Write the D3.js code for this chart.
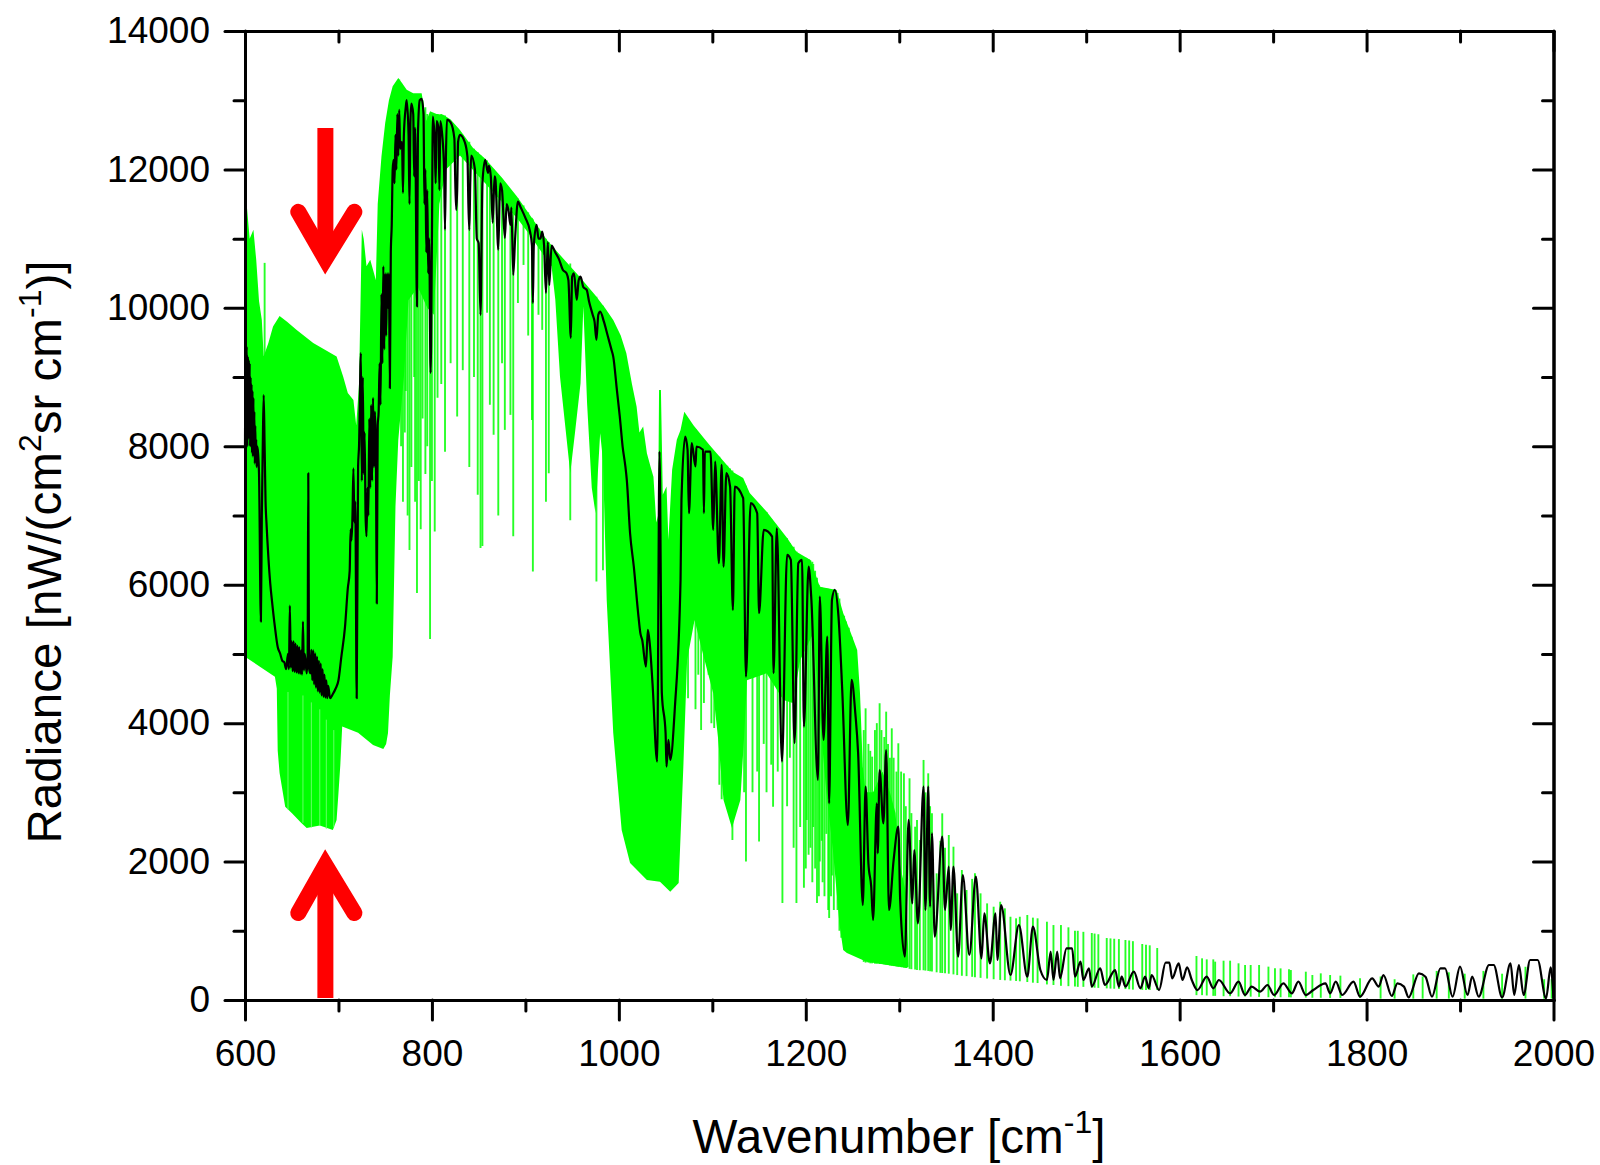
<!DOCTYPE html>
<html lang="en">
<head>
  <meta charset="UTF-8">
  <title>Radiance spectrum</title>
  <script src="https://d3js.org/d3.v7.min.js"></script>
  <style>
    body { margin: 0; background: #fff; }
    text { font-family: "Liberation Sans", Arial, sans-serif; fill: #000; }
    .axis path, .axis line { stroke: #000; stroke-width: 3px; stroke-linecap: round; }
    .axis text { font-size: 37px; font-family: "Liberation Sans", Arial, sans-serif; }
  </style>
</head>
<body>
  <svg width="1600" height="1165"></svg>

  <script>
    const xMajor = [600, 800, 1000, 1200, 1400, 1600, 1800, 2000];
    const xMinor = [700, 900, 1100, 1300, 1500, 1700, 1900];
    const yMajor = [0, 2000, 4000, 6000, 8000, 10000, 12000, 14000];
    const yMinor = [1000, 3000, 5000, 7000, 9000, 11000, 13000];

    // upper edge of the solid green body [wavenumber, radiance]
    const greenUpper = [
      [600,11000],[602,11465],[605,11000],[609,11127],[612,10694],[615,10100],[618,9826],[620,9300],[625,9494],
      [630,9730],[637,9884],[645,9800],[655,9682],[673,9494],[698,9296],[705,9007],[710,8771],[716,8670],[719,8300],
      [722,8900],[725,11127],[727,11000],[730,10600],[734,10694],[738,10500],[740,10400],[742,11500],[746,12187],
      [750,12670],[754,13000],[758,13200],[764,13320],[768,13250],[773,13150],[780,13100],[789,13100],[794,12700],
      [798,12840],[805,12800],[812,12790],[820,12720],[830,12570],[844,12310],[857,12155],[875,11880],[891,11610],
      [907,11300],[923,10980],[940,10720],[958,10450],[975,10180],[985,10000],[994,9826],[1002,9600],[1008,9345],
      [1014,8900],[1019,8570],[1022,8200],[1026,8285],[1030,7900],[1034,7700],[1037,7560],[1040,6900],[1042,7000],
      [1043,8815],[1045,8815],[1047,7300],[1051,7420],[1053,6650],[1057,7660],[1062,8093],[1066,8237],[1070,8500],
      [1080,8300],[1097,8020],[1122,7630],[1133,7543],[1140,7326],[1158,7056],[1180,6676],[1190,6478],[1205,6358],
      [1215,5972],[1233,5925],[1240,5590],[1247,5347],[1255,5058],[1258,4436],[1261,3370],[1264,3000],[1272,3000],
      [1282,3300],[1290,3000],[1296,2700],[1300,2000],[1308,1500],[1310,480]
    ];

    // lower edge of the solid green body
    const greenLower = [
      [600,4960],[616,4815],[632,4672],[634,4500],[635,3600],[637,3280],[643,2793],[650,2700],[660,2560],[666,2485],
      [680,2520],[694,2457],[698,2600],[700,2990],[702,3400],[704,3950],[721,3860],[737,3685],[748,3627],[751,3700],
      [753,3858],[755,4400],[758,4960],[761,7130],[764,8090],[770,9000],[775,10115],[785,10300],[795,10000],[802,9900],
      [808,11500],[815,12000],[830,12200],[850,11900],[857,11800],[870,11600],[891,11300],[905,11050],[915,10850],
      [923,10700],[928,10600],[932,10116],[937,9008],[948,7611],[953,8189],[959,8912],[962,10020],[966,8622],[971,7400],
      [975,7033],[980,8190],[983,7800],[987,5780],[994,3858],[1003,2457],[1012,1980],[1030,1734],[1044,1710],[1055,1565],
      [1064,1690],[1069,3370],[1073,4910],[1081,5490],[1090,5000],[1101,4430],[1106,3800],[1112,2890],[1121,2485],
      [1130,2890],[1134,3800],[1137,4620],[1158,4720],[1176,4335],[1186,4290],[1194,4910],[1208,5300],[1215,4100],
      [1222,3000],[1229,2167],[1236,1100],[1240,722],[1244,680],[1265,553],[1308,462]
    ];

    // single green lines [wavenumber, bottom, top]
    const greenLines = [
      [621,9000,10650],[765,9000,13300],[767,8000,13250],[769,7200,12900],[771,8200,13100],[772,8800,13000],[774,7000,13100],
      [776,6500,13000],[778,7700,13050],[781,9000,13000],[782,7200,13000],[784,5880,13000],[786,7500,13000],
      [788,6800,13000],[790,8400,13000],[793,7600,12900],[795,8000,12800],[798,5216,12800],[800,7500,12800],
      [803,6770,12800],[806,8700,12800],[810,8900,12800],
      [814,7920,12780],[820,9200,12700],[827,8430,12600],
      [833,9100,12500],[840,7700,12400],[845,9000,12300],
      [849,7300,12250],[852,6530,12200],[854,6560,12170],[859,9930,12130],[862,8600,12050],
      [866,8165,12000],[871,7000,11900],[875,9200,11850],[878,8237,11800],
      [884,8454,11700],[887,6700,11650],[892,10070,11580],[898,10620,11480],
      [903,9600,11380],[907,8380,11300],[908,6190,11280],[914,9900,11150],
      [918,9682,11080],[922,7200,11000],[925,7610,10950],[948,6930,10640],[976,6045,10160],
      [983,6210,10030],
      [1074,4360,8300],[1082,4200,8250],[1085,4700,8150],[1088,3900,8100],[1091,4290,8050],
      [1096,4700,8000],[1099,4000,7950],[1102,3930,7900],[1107.5,3110,7850],[1110,2900,7780],
      [1116,3700,7720],[1119,2700,7680],[1121.5,2310,7650],[1128,3300,7550],[1134,3000,7470],
      [1136,2000,7430],[1143,3000,7250],[1148,3300,7150],[1150,2290,7120],
      [1155,3700,7080],[1158,3000,7050],[1163,3400,6950],[1165,2793,6900],[1170,3300,6800],
      [1175,1400,6700],[1180,2800,6670],[1183,3500,6600],[1187,2200,6550],
      [1190,1400,6480],[1194,2500,6420],[1198,1620,6400],[1200,1900,6390],[1201,2600,6380],
      [1203,2100,6370],[1205,2200,6350],[1207,1700,6330],[1208,2500,6300],[1210,1900,6200],[1212,1400,6100],[1214,1500,6000],
      [1215,2000,5970],[1217,2300,5960],[1218,1700,5950],[1220,1500,5950],[1222,2400,5950],[1224,1300,5940],[1225,1185,5930],
      [1227,1500,5925],[1228,1800,5920],[1230,1300,5910],[1232,2100,5900],[1234,1300,5880],[1236,1000,5800],[1238,900,5620],
      [1241,800,5550],[1243,800,5470],[1246,700,5380],[1249,680,5250],
      [1262,550,3900],[1264,540,4214],[1267,540,3700],[1269,530,3600],[1271,530,3516],[1274,525,3900],[1276,525,4000],[1279,520,4287],
      [1281,520,3900],[1284,515,3800],[1286,510,4166],[1288,505,3700],[1290,500,3500],[1292,495,3925],[1294,490,3500],[1297,485,3300],
      [1299,480,3709],[1302,475,3300],[1305,470,3275],[1307,465,2800],[1311,450,3203],[1313,445,2700],[1317,440,2504],
      [1319,435,2600],[1322,430,2312],[1326,430,3468],[1328,425,3000],[1331,420,3275],[1333,415,2800],
      [1335,410,2697],[1340,400,1830],[1344,392,2300],[1346,390,2697],[1349,385,2200],
      [1353,380,2384],[1358,370,2215],[1362,360,1541],[1367,350,1878],
      [1372,345,1589],[1378,335,1750],[1381,330,1830],[1387,320,1541],[1394,310,1396],
      [1401,300,1348],[1408,290,1420],[1413,285,1324],[1419,280,1203],
      [1425,275,1180],[1429,270,1203],[1437,260,1228],[1443,250,1190],[1448,245,1180],
      [1458,225,1131],[1465,217,1083],[1473,205,1083],
      [1481,200,1050],[1488,195,1000],[1491,190,1000],[1497,190,985],
      [1506,180,968],[1509,178,960],[1513,175,950],[1522,168,896],[1526,165,890],[1530,163,885],
      [1535,160,880],[1542,158,867],[1546,155,860],[1550,150,850],[1560,146,809],
      [1564,145,800],[1568,145,790],[1576,145,751],
      [1618,70,636],[1624,70,602],[1629,65,587],[1636,60,587],[1638,60,554],[1647,55,568],[1654,55,568],
      [1663,50,530],[1670,50,506],[1676,48,506],[1685,45,506],[1695,40,482],[1702,40,457],[1708,40,457],[1717,38,443],
      [1719,38,433],[1735,35,409],[1742,32,361],[1751,32,385],[1761,30,361],[1772,30,352],[1793,28,313],[1815,20,340],
      [1830,20,300],[1850,20,370],[1860,20,340],[1875,20,420],[1888,20,400],[1905,20,380],[1925,20,420],[1945,20,380],
      [1970,20,480],[1990,20,300],[1998,20,300]
    ];

    // pale stripes inside the green notch [wavenumber, bottom, top]
    const paleLines = [[646,2750,4450],[662,2560,4400],[671,2490,4300],[680,2520,4200],[687,2470,4050],[695,2500,3900]];

    // black spectrum [wavenumber, radiance]
    const blackLine = [
      [600,8000],[600.5,9300],[601,8100],[601.5,9350],[602,9440],[602.5,8000],[603,9300],[603.5,8100],[604,9250],[604.5,8200],[605,9200],
      [605.5,8000],[606,9000],[606.5,8000],[607,8900],[607.5,7900],[608,8800],[608.5,7850],[609,8700],[609.5,7900],[610,8500],[610.5,7750],
      [611,8300],[611.5,7800],[612,8100],[612.5,7700],[613,8000],
      [614,7900],[615,7600],[617,5467],[618,7000],[619,8000],[620,8740],[621,8000],[622,7200],[623,6890],[625,6400],[627,6020],
      [629,5750],[632,5390],[635,5100],[637.5,5010],[640,4900],[642,4880],[644,4780],[646,5000],[647,4780],[648,5700],[649,4800],
      [650,5180],[651,4750],[652,5180],[653,4740],[654,5150],[655,4730],[656,5120],[657,4720],[658,5100],[659,4710],[660,5050],
      [661,4700],[662,5467],[663,4760],[664,5000],[666,4720],[667,4950],[667.7,7610],[668.5,4800],[670,4720],[671,5060],[672,4620],
      [673,5050],[674,4560],[675,5010],[676,4510],[677,4960],[678,4460],[679,4900],[680,4440],[681,4860],[682,4400],[683,4780],
      [684,4380],[685,4700],[686,4370],[687,4620],[688,4360],[689,4540],[691,4360],[694,4420],[697,4500],[700,4620],[703,4950],
      [707,5390],[710,5950],[712,6200],[713,6800],[714,6640],[715,7000],[716,7680],[717,6900],[718,7200],[719.5,4360],[721,7700],
      [722,8000],[724,9345],[725,7500],[726,9000],[727,7600],[728,8200],[729,7000],[730,6700],[731,7400],[732,7000],[733,8400],
      [734,7400],[735,8600],[736,7500],[737,8700],[738,7700],[739,8500],[740,8000],[741,5730],[742,8300],[743,8500],[744,9200],
      [745,8600],[746,10200],[747,9200],[748,10600],[749,9400],[750,10500],[751,9600],[752,10500],[753,10000],[754,10500],
      [755,8840],[756,10800],[757,11200],[758,12000],[759,12140],[760,11800],[761,12500],[762,12000],[763,12800],[764,12200],
      [765,12860],[766,12300],[768,12400],[769,11660],[770,12500],[772,12900],[773,13000],[775,12500],[776,11500],[777,12700],
      [778,12950],[780,12800],[781,11900],[782,12600],[784,10020],[785,12500],[787,13000],[789,13020],[791,12800],[792,11500],
      [793,12000],[794,10800],[795,11700],[796,10500],[797,11000],[798.6,9060],[800,11000],[801,12765],[803,12400],[804,11800],
      [805,12700],[807,12600],[808,11700],[809,12700],[811,12500],[813,12000],[814,11130],[815,12200],[816,12720],[820,12680],
      [824,12450],[825,11800],[826,11416],[827,11700],[828,12400],[830,12500],[835,12400],[838,12180],[839,11500],[840,11127],
      [841,11800],[842,12200],[846,12000],[848,11000],[850,10935],[852,9900],[854,11800],[857,12140],[860,11950],[861,12050],
      [863,11900],[865,11230],[867,11900],[868,11850],[871,10840],[873,11800],[875,11700],[878,11010],[880,11500],[882,11400],
      [884,11200],[885,11450],[887,10475],[889,11000],[892,11536],[895,11450],[900,11300],[905,11100],[907,10900],[908,10070],
      [909,10900],[912,11200],[914,11000],[916,11000],[918,11100],[920,10900],[922,10215],[924,10950],[925.6,10330],[928,10900],
      [932,10800],[936,10700],[940,10550],[944,10500],[946,10400],[948.6,9566],[950,10450],[952,10500],[955,10115],[957,10400],
      [959,10450],[962,10300],[965.6,10260],[968,10100],[972,9900],[974,9800],[976,9537],[978,9900],[980,9946],[984,9800],
      [988,9600],[992,9400],[994,9296],[998,8800],[1001,8430],[1004,8000],[1007,7705],[1008.5,7515],[1012,6744],[1016,6262],
      [1021,5540],[1023,5300],[1025,5200],[1029,4817],[1031,5347],[1033,5155],[1036,4577],[1041,3445],[1043.5,7924],[1046,4432],
      [1050,3854],[1051,3372],[1053,3758],[1055,3469],[1060,4240],[1066,6070],[1067,7226],[1071,8141],[1073.5,7948],[1075,7033],
      [1078,8045],[1082,7708],[1083,7997],[1090,7950],[1091,7033],[1092,7924],[1098,7924],[1101,6792],[1103,7780],[1107,6311],
      [1110,7732],[1112,6262],[1115,7611],[1119,7418],[1122,5636],[1124,7418],[1133,7250],[1136,4673],[1141,7178],[1148,7033],
      [1150,5588],[1155,6792],[1164,6696],[1165.5,4721],[1169,6816],[1174.5,3445],[1180,6431],[1184,6359],[1188,3710],[1192,6311],
      [1196,6359],[1198,3950],[1203,6262],[1206,5780],[1213,3179],[1215,5828],[1219,3757],[1223,5250],[1225,2842],[1228,5780],
      [1231,5925],[1235,5539],[1239,4479],[1245,2528],[1249,4624],[1253,4142],[1256,3564],[1261,1372],[1264,3082],[1267,1974],
      [1270,1637],[1272,1156],[1276,2842],[1277,2119],[1279,3323],[1283,2552],[1286,3612],[1289,1300],[1294,2023],[1299,2504],
      [1301,1445],[1306,626],[1310,2601],[1314,1396],[1316,2167],[1320,1107],[1326,3082],[1328,1300],[1331,3082],[1333,1348],
      [1335,2408],[1338,915],[1346,2360],[1349,1300],[1353,1926],[1355,1011],[1358,1926],[1363,626],[1368,1806],[1375,650],
      [1382,1782],[1388,602],[1391,1252],[1397,529],[1403,1252],[1405,578],[1409,1372],[1419,361],[1428,1083],[1437,337],
      [1443,1059],[1451,433],[1458,289],[1462,698],[1465,289],[1469,698],[1472,313],[1479,747],[1485,747],[1488,337],[1494,554],
      [1497,289],[1503,457],[1506,193],[1515,457],[1520,217],[1531,433],[1535,193],[1538,337],[1542,193],[1551,409],[1558,169],
      [1563,337],[1567,169],[1570,361],[1578,144],[1585,539],[1589,539],[1592,313],[1599,530],[1603,289],[1608,472],[1613,289],
      [1619,144],[1629,337],[1636,169],[1642,289],[1654,96],[1663,265],[1670,72],[1677,193],[1686,120],[1694,217],[1701,72],
      [1711,241],[1720,96],[1727,265],[1735,72],[1743,144],[1756,241],[1761,96],[1767,265],[1774,72],[1786,265],[1793,48],
      [1806,313],[1813,193],[1818,361],[1827,58],[1833,241],[1840,193],[1845,38],[1856,385],[1863,337],[1870,48],[1879,457],
      [1884,457],[1892,48],[1900,482],[1908,72],[1913,337],[1920,48],[1931,506],[1936,506],[1945,38],[1954,530],[1958,72],
      [1963,506],[1968,72],[1975,578],[1983,578],[1992,24],[1997,472],[2000,24]
    ];

    // red arrows: x of the shaft, arm ends, vertex and far end of the shaft, in data units
    const arrowX = 686;
    const arrowArmX = [657, 717];
    const arrowDown = { base: 12600, arm: 11387, vertex: 10708 };
    const arrowUp = { base: 30, arm: 1257, vertex: 1950 };

    const x = d3.scaleLinear().domain([600, 2000]).range([245, 1553.5]);
    const y = d3.scaleLinear().domain([0, 14000]).range([1000, 31]);

    const svg = d3.select("svg");
    const line = d3.line().x(d => x(d[0])).y(d => y(d[1]));

    // green body
    svg.append("path")
      .attr("d", line(greenUpper.concat(greenLower.slice().reverse())) + "Z")
      .attr("fill", "#00ff00");

    function addLines(cls, data, colour, width, opacity) {
      svg.selectAll("." + cls)
        .data(data)
        .join("line")
        .attr("class", cls)
        .attr("x1", d => x(d[0]))
        .attr("x2", d => x(d[0]))
        .attr("y1", d => y(d[1]))
        .attr("y2", d => y(d[2]))
        .attr("stroke", colour)
        .attr("stroke-opacity", opacity)
        .attr("stroke-width", width);
    }
    addLines("green-line", greenLines, "#00ff00", 1.9, 0.85);
    addLines("pale-line", paleLines, "#7dff7d", 1, 0.8);

    // black line on top of the green, smoothed so the tail has round humps
    svg.append("path")
      .attr("d", line.curve(d3.curveMonotoneX)(blackLine))
      .attr("fill", "none")
      .attr("stroke", "#000")
      .attr("stroke-width", 2.2)
      .attr("stroke-linejoin", "round");
    line.curve(d3.curveLinear);

    // axes
    const axisLayer = svg.append("g");
    function addAxis(axis, tx, ty, ticks, size, labels) {
      const a = axis.tickValues(ticks).tickSize(size).tickSizeOuter(0);
      a.tickFormat(labels ? d3.format("d") : "");
      return axisLayer.append("g")
        .attr("class", "axis")
        .attr("transform", `translate(${tx},${ty})`)
        .call(a);
    }
    addAxis(d3.axisBottom(x).tickPadding(20), 0, 1000, xMajor, 20, true);
    addAxis(d3.axisBottom(x), 0, 1000, xMinor, 11, false);
    addAxis(d3.axisLeft(y).tickPadding(15), 245, 0, yMajor, 20, true);
    addAxis(d3.axisLeft(y), 245, 0, yMinor, 11, false);
    addAxis(d3.axisTop(x), 0, 31, xMajor, -20, false);
    addAxis(d3.axisTop(x), 0, 31, xMinor, -11, false);
    addAxis(d3.axisRight(y), 1553.5, 0, yMajor, -20, false);
    addAxis(d3.axisRight(y), 1553.5, 0, yMinor, -11, false);

    // red arrows
    function arrow(a) {
      const g = svg.append("g").attr("fill", "none").attr("stroke", "#ff0000").attr("stroke-width", 16);
      g.append("path").attr("d", line([[arrowX, a.base], [arrowX, a.vertex]]));
      g.append("path")
        .attr("d", line([[arrowArmX[0], a.arm], [arrowX, a.vertex], [arrowArmX[1], a.arm]]))
        .attr("stroke-linecap", "round")
        .attr("stroke-linejoin", "miter");
    }
    arrow(arrowDown);
    arrow(arrowUp);

    // axis titles
    const xTitle = svg.append("text")
      .attr("x", 899)
      .attr("y", 1153)
      .attr("text-anchor", "middle")
      .attr("font-size", 47.6);
    xTitle.append("tspan").text("Wavenumber [cm");
    xTitle.append("tspan").attr("dy", -20).attr("font-size", 32).text("-1");
    xTitle.append("tspan").attr("dy", 20).text("]");

    const yTitle = svg.append("text")
      .attr("transform", "translate(61,552) rotate(-90)")
      .attr("text-anchor", "middle")
      .attr("font-size", 47.6);
    yTitle.append("tspan").text("Radiance [nW/(cm");
    yTitle.append("tspan").attr("dy", -20).attr("font-size", 32).text("2");
    yTitle.append("tspan").attr("dy", 20).text("sr cm");
    yTitle.append("tspan").attr("dy", -20).attr("font-size", 32).text("-1");
    yTitle.append("tspan").attr("dy", 20).text(")]");
  </script>
</body>
</html>
